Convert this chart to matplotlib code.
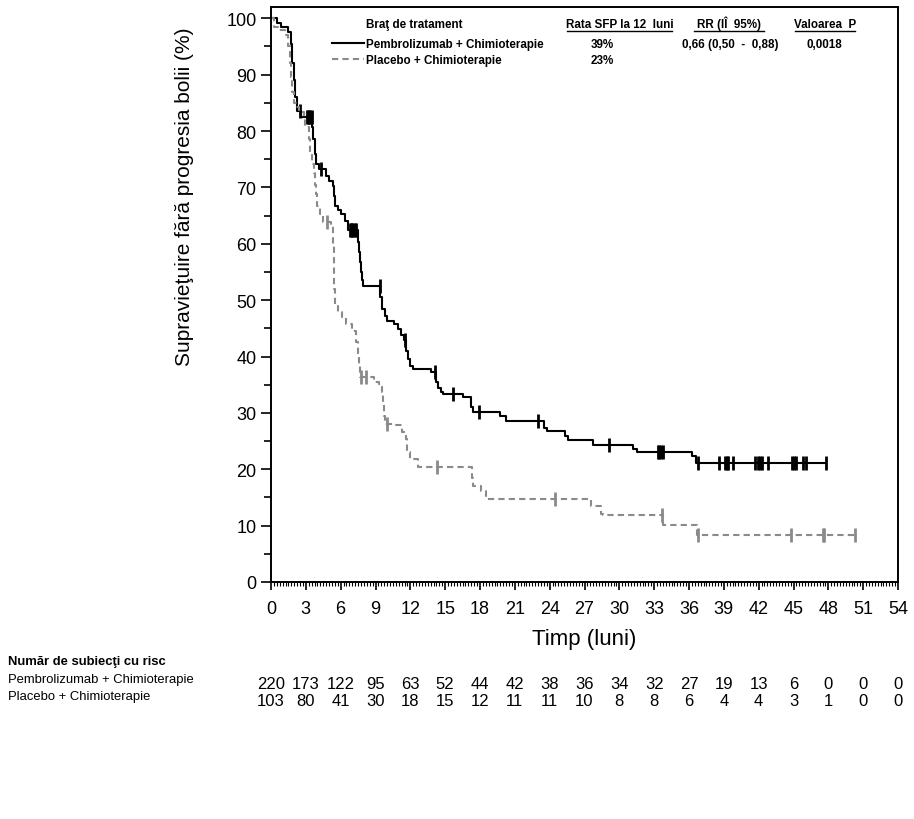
import numpy as np
import matplotlib
matplotlib.use("Agg")
import matplotlib.pyplot as plt
from matplotlib.lines import Line2D
from matplotlib.ticker import MultipleLocator

plt.rcParams['font.family'] = ['Liberation Sans', 'DejaVu Sans']

# Pembrolizumab + chimioterapie: momentele pasilor (luni) si supravietuirea (%)
pem_t = [0, 0.5, 0.9, 1.5, 1.75, 1.85, 1.95, 2.05, 2.2, 2.6, 3.55, 3.65, 3.75,
         3.9, 4.1, 4.7, 5.0, 5.3, 5.45, 5.55, 5.8, 6.0, 6.4, 6.6, 7.45, 7.55,
         7.65, 7.75, 7.85, 7.95, 9.4, 9.6, 9.8, 10.0, 10.6, 10.9, 11.2, 11.45,
         11.6, 11.8, 12.0, 12.2, 13.8, 14.2, 14.4, 14.6, 14.8, 16.5, 17.2, 17.4,
         19.7, 20.2, 23.5, 23.8, 25.3, 25.6, 27.7, 31.2, 31.5, 36.3, 36.6]
pem_s = [100, 99.2, 98.4, 97.5, 95.5, 92, 89, 86, 83.5, 82.5, 80.8, 78.5, 76,
         74.1, 73.2, 72.0, 71.2, 70.2, 68.5, 66.7, 66.0, 65.2, 64.0, 62.5, 60.3,
         58.5, 56.7, 55, 53.5, 52.5, 50.5, 48.5, 47.2, 46.3, 45.7, 44.8, 43.8,
         43.0, 41, 39.5, 38.3, 37.8, 37.2, 35.5, 34.5, 33.7, 33.3, 32.8, 31.0,
         30.1, 29.4, 28.5, 27.3, 26.8, 25.9, 25.2, 24.3, 23.6, 23.0, 22.3, 21.1]
pem_cens = [2.5, 3.1, 3.2, 3.3, 3.4, 3.5, 4.3, 6.8, 6.9, 7.0, 7.1, 7.2, 7.3,
            9.35, 11.5, 14.1, 15.7, 17.9, 23.0, 29.1, 33.3, 33.45, 33.6, 33.75,
            36.8, 38.6, 39.1, 39.25, 39.4, 39.8, 41.7, 41.95, 42.1, 42.3, 42.8,
            44.9, 45.05, 45.2, 45.8, 46.1, 47.8]

# Placebo + chimioterapie
pla_t = [0, 0.3, 0.6, 1.2, 1.5, 1.6, 1.7, 1.85, 2.0, 2.15, 2.4, 2.8, 2.95, 3.3,
         3.4, 3.55, 3.7, 3.8, 3.9, 4.0, 4.2, 4.45, 5.2, 5.35, 5.4, 5.45, 5.5,
         5.8, 6.1, 6.5, 7.0, 7.35, 7.45, 7.55, 7.65, 8.9, 9.3, 9.6, 9.65, 9.7,
         9.8, 10.8, 11.3, 11.6, 11.7, 12.0, 12.7, 17.3, 17.4, 18.1, 18.5, 27.6,
         28.4, 28.6, 33.8, 36.7]
pla_s = [100, 98.4, 98.0, 97, 95, 92, 89.5, 87, 85, 84.2, 83.3, 82.3, 80.7,
         78.5, 76.2, 74.1, 72.5, 70.5, 68.8, 66.7, 65.2, 63.8, 63.2, 60, 56, 52,
         49, 47.9, 47.0, 45.7, 44.5, 42.5, 40, 38.3, 36.3, 35.5, 35.1, 33.7,
         31.5, 29.4, 28.0, 27.8, 26.6, 25.4, 23.0, 21.8, 20.4, 18.5, 17.0, 16.1,
         14.7, 13.5, 12.0, 11.9, 10.1, 8.3]
pla_cens = [4.8, 7.75, 8.2, 10.0, 14.3, 24.5, 33.7, 36.75, 44.8, 47.5, 47.6, 50.3]

# tabel cu numar de subiecti la risc
risk_times = list(range(0, 55, 3))
risk_pem = [220, 173, 122, 95, 63, 52, 44, 42, 38, 36, 34, 32, 27, 19, 13, 6, 0, 0, 0]
risk_pla = [103, 80, 41, 30, 18, 15, 12, 11, 11, 10, 8, 8, 6, 4, 4, 3, 1, 0, 0]

GREY = '#8a8a8a'
W, H = 914, 820


def fx(px):
    return px / W


def fy(py):
    return 1 - py / H


def km(ax, t, s, cens, **kw):
    t = np.asarray(t, float)
    s = np.asarray(s, float)
    end = max(cens)
    ax.step(np.append(t, end), np.append(s, s[-1]), where='post', **kw)
    idx = np.searchsorted(t, cens, side='right') - 1
    ax.plot(cens, s[idx], ls='none', marker='|', ms=10, mew=2,
            color=kw.get('color'))


fig = plt.figure(figsize=(W / 100, H / 100), dpi=100)
ax = fig.add_axes([fx(271), fy(583), (898 - 271) / W, (583 - 8) / H])

km(ax, pem_t, pem_s, pem_cens, color='black', lw=1.5)
km(ax, pla_t, pla_s, pla_cens, color=GREY, lw=1.5, ls=(0, (3, 2)))

ax.set_xlim(0, 54)
ax.set_ylim(0, 102)
ax.xaxis.set_major_locator(MultipleLocator(3))
ax.xaxis.set_minor_locator(MultipleLocator(0.25))
ax.yaxis.set_major_locator(MultipleLocator(10))
ax.yaxis.set_minor_locator(MultipleLocator(5))
ax.tick_params(which='major', direction='out', length=6, width=1.2, labelsize=13)
ax.tick_params(which='minor', direction='out', length=3, width=0.8)
ax.tick_params(axis='x', which='major', pad=7)
ax.tick_params(axis='y', which='major', length=7)
ax.tick_params(axis='y', which='minor', length=5, width=1.2)
for sp in ax.spines.values():
    sp.set_linewidth(1.4)
ax.set_xlabel('Timp (luni)', fontsize=16, labelpad=8)
fig.text(fx(185), fy(197), 'Supravieţuire fără progresia bolii (%)',
         rotation=90, ha='center', va='center', fontsize=15)

# legenda sub forma de tabel (pozitii pe linia de baza)
hdr_y, r1_y, r2_y = 28, 48, 64
fs_leg = 8.4
fig.text(fx(366), fy(hdr_y), 'Braţ de tratament', fontweight='bold',
         fontsize=fs_leg, va='baseline')
for txt, x0, x1 in [('Rata SFP la 12  luni', 567, 672),
                    ('RR (IÎ  95%)', 694, 764),
                    ('Valoarea  P', 795, 855)]:
    fig.text(fx((x0 + x1) / 2), fy(hdr_y), txt, fontweight='bold',
             fontsize=fs_leg, va='baseline', ha='center')
    fig.add_artist(Line2D([fx(x0), fx(x1)], [fy(hdr_y + 4)] * 2,
                          color='black', lw=1))
fig.add_artist(Line2D([fx(332), fx(364)], [fy(r1_y - 4)] * 2, color='black', lw=1.5))
fig.add_artist(Line2D([fx(332), fx(364)], [fy(r2_y - 4)] * 2, color=GREY, lw=1.5,
                      ls=(0, (3, 2))))
rows = [(r1_y, 'Pembrolizumab + Chimioterapie', '39%', '0,66 (0,50  -  0,88)', '0,0018'),
        (r2_y, 'Placebo + Chimioterapie', '23%', '', '')]
for y, name, rate, rr, p in rows:
    fig.text(fx(366), fy(y), name, fontweight='bold', fontsize=fs_leg, va='baseline')
    fig.text(fx(602), fy(y), rate, fontweight='bold', fontsize=fs_leg,
             va='baseline', ha='center')
    fig.text(fx(730), fy(y), rr, fontweight='bold', fontsize=fs_leg,
             va='baseline', ha='center')
    fig.text(fx(824), fy(y), p, fontweight='bold', fontsize=fs_leg,
             va='baseline', ha='center')

# numar de subiecti la risc
fig.text(fx(8), fy(662), 'Număr de subiecţi cu risc', fontweight='bold',
         fontsize=9.4, va='center')
fig.text(fx(8), fy(680), 'Pembrolizumab + Chimioterapie', fontsize=9.4, va='center')
fig.text(fx(8), fy(697), 'Placebo + Chimioterapie', fontsize=9.4, va='center')
for t, a, b in zip(risk_times, risk_pem, risk_pla):
    xf = ax.transData.transform((t, 0))[0] / W
    fig.text(xf, fy(685), str(a), fontsize=12, ha='center', va='center')
    fig.text(xf, fy(702), str(b), fontsize=12, ha='center', va='center')

fig.savefig('out.png', dpi=100)
